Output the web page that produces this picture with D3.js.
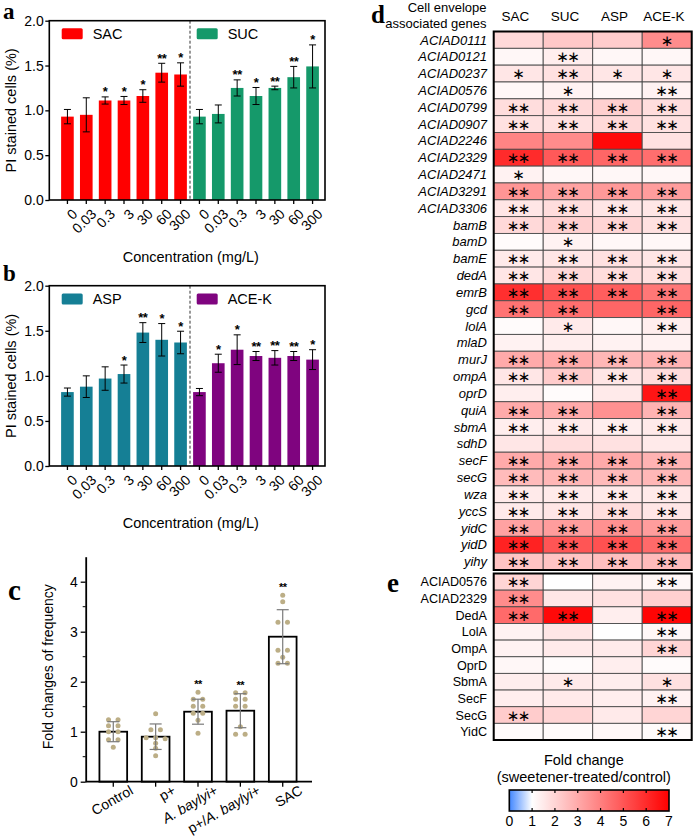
<!DOCTYPE html>
<html><head><meta charset="utf-8">
<script src="https://cdn.jsdelivr.net/npm/d3@7"></script>
<style>body{margin:0;background:#fff} svg{display:block} text{font-family:"Liberation Sans",Arial,sans-serif;fill:#000}</style>
</head><body><svg id="chart" width="696" height="837"></svg>
<script>
// ---------------- DATA ----------------
const concLabels = ["0","0.03","0.3","3","30","60","300"];
const sacMean = [0.93,0.95,1.11,1.11,1.16,1.42,1.40];
const sacSd   = [0.08,0.19,0.04,0.045,0.07,0.105,0.13];
const sacSig  = ["","","*","*","*","**","*"];
const sucMean = [0.93,0.96,1.25,1.16,1.25,1.37,1.49];
const sucSd   = [0.08,0.10,0.09,0.095,0.02,0.12,0.24];
const sucSig  = ["","","**","*","**","**","*"];
const aspMean = [0.82,0.88,0.97,1.02,1.48,1.40,1.37];
const aspSd   = [0.045,0.12,0.13,0.10,0.11,0.18,0.125];
const aspSig  = ["","","","*","**","*","*"];
const acekMean = [0.82,1.14,1.29,1.22,1.20,1.22,1.18];
const acekSd   = [0.04,0.10,0.165,0.05,0.08,0.05,0.11];
const acekSig  = ["","*","*","**","**","**","*"];
const yTicksAB = [0,0.5,1,1.5,2];

const cGroups = ["Control","p+","A. baylyi+","p+/A. baylyi+","SAC"];
const cMean = [1.00,0.90,1.40,1.42,2.90];
const cSd   = [0.20,0.255,0.25,0.34,0.54];
const cSig  = ["","","**","**","**"];
const cDots = [
  [1.24,1.24,1.12,1.12,1.00,1.00,0.84,0.84,0.69],
  [1.36,1.04,1.04,0.88,0.88,0.86,0.77,0.67,0.52],
  [1.79,1.65,1.65,1.51,1.51,1.37,1.37,1.23,0.97],
  [1.78,1.78,1.65,1.65,1.51,1.51,1.10,0.95,0.95],
  [3.73,3.60,3.19,3.19,2.63,2.63,2.49,2.37,2.37]
];
const cTicks = [0,1,2,3,4];

const hmCols = ["SAC","SUC","ASP","ACE-K"];
const dGenes = ["ACIAD0111","ACIAD0121","ACIAD0237","ACIAD0576","ACIAD0799","ACIAD0907","ACIAD2246","ACIAD2329","ACIAD2471","ACIAD3291","ACIAD3306","bamB","bamD","bamE","dedA","emrB","gcd","lolA","mlaD","murJ","ompA","oprD","quiA","sbmA","sdhD","secF","secG","wza","yccS","yidC","yidD","yihy"];
const dSAC  = [1.9,1.2,1.6,1.2,1.8,1.7,3.9,6.0,1.3,3.5,1.6,1.9,1.1,1.5,1.6,5.9,4.3,1.1,1.3,3.0,1.6,1.4,3.0,1.4,1.6,3.0,2.6,1.5,1.5,3.2,6.2,2.4];
const dSUC  = [2.3,1.4,1.7,1.3,1.9,1.7,3.7,4.9,1.2,3.2,1.8,2.1,1.3,1.6,1.9,5.1,4.4,1.5,1.4,3.0,2.2,1.1,3.0,1.5,1.8,3.0,2.7,1.5,1.6,3.3,5.0,2.4];
const dASP  = [2.2,1.2,1.6,1.2,2.1,1.9,6.8,4.6,1.2,3.4,1.6,2.0,1.2,1.7,1.8,4.8,4.6,1.2,1.3,2.7,1.6,1.5,3.6,1.4,1.7,3.0,2.6,1.5,1.8,3.6,5.1,2.5];
const dACEK = [3.7,1.2,1.6,1.3,1.8,1.7,1.7,4.4,1.2,3.3,1.6,1.7,1.2,1.6,1.7,4.2,4.6,1.4,1.3,2.8,1.8,6.5,2.8,1.5,1.5,2.8,2.7,1.5,1.6,3.3,4.5,2.6];
const dSigSAC  = ["","","*","","**","**","","**","*","**","**","**","","**","**","**","**","","","**","**","","**","**","","**","**","**","**","**","**","**"];
const dSigSUC  = ["","**","**","*","**","**","","**","","**","**","**","*","**","**","**","**","*","","**","**","","**","**","","**","**","**","**","**","**","**"];
const dSigASP  = ["","","*","","**","**","","**","","**","**","**","","**","**","**","","","","**","**","","","**","","**","**","**","**","**","**","**"];
const dSigACEK = ["*","","*","**","**","**","","**","","**","**","**","","**","**","**","**","**","","**","**","**","**","**","","**","**","**","**","**","**","**"];

const eProteins = ["ACIAD0576","ACIAD2329","DedA","LolA","OmpA","OprD","SbmA","SecF","SecG","YidC"];
const eSAC  = [2.0,3.7,4.5,1.3,1.3,1.2,1.4,1.4,2.2,1.1];
const eSUC  = [1.0,1.6,6.8,1.6,1.5,1.1,1.5,1.5,2.0,1.1];
const eASP  = [1.3,1.7,1.4,1.0,1.5,1.4,1.4,1.4,1.5,1.2];
const eACEK = [1.2,2.1,6.9,1.2,2.0,1.1,1.7,1.3,2.0,1.1];
const eSigSAC  = ["**","**","**","","","","","","**",""];
const eSigSUC  = ["","","**","","","","*","","",""];
const eSigASP  = ["","","","","","","","","",""];
const eSigACEK = ["**","","**","**","**","","*","**","","**"];

const cbTicks = [0,1,2,3,4,5,6,7];

// ---------------- DRAW ----------------
const svg = d3.select("#chart");
const SERIF = '"Liberation Serif","Times New Roman",serif';

function panelLetter(t, x, y, size){
  svg.append("text").attr("x",x).attr("y",y).text(t)
    .style("font-family",SERIF).style("font-weight","bold").style("font-size",size+"px");
}

function barPanel(top, bottom, groups, titleY, legendY){
  const g = svg.append("g");
  const left = 49.3, right = 325;
  const cats = [];
  groups.forEach((gr,gi)=>concLabels.forEach((c,ci)=>cats.push(gi+"_"+ci)));
  const x = d3.scaleBand().domain(cats).range([58,322]).paddingInner(0.33).paddingOuter(0.165);
  const y = d3.scaleLinear().domain([0,2]).range([bottom, top]);
  const bw = x.bandwidth();
  groups.forEach((gr,gi)=>{
    gr.mean.forEach((m,ci)=>{
      const k = gi+"_"+ci, cx = x(k)+bw/2;
      g.append("rect").attr("x",x(k)).attr("y",y(m)).attr("width",bw).attr("height",y(0)-y(m)).attr("fill",gr.color);
      const hi = m+gr.sd[ci], lo = m-gr.sd[ci];
      g.append("line").attr("x1",cx).attr("x2",cx).attr("y1",y(lo)).attr("y2",y(hi)).attr("stroke","#000").attr("stroke-width",1);
      [hi,lo].forEach(v=>g.append("line").attr("x1",cx-3.5).attr("x2",cx+3.5).attr("y1",y(v)).attr("y2",y(v)).attr("stroke","#000").attr("stroke-width",1));
      if (gr.sig[ci]) g.append("text").attr("x",cx).attr("y",y(hi)-0.5).attr("text-anchor","middle")
          .style("font-size","13px").style("font-weight","bold").style("letter-spacing","-0.5px").text(gr.sig[ci]);
      g.append("line").attr("x1",cx).attr("x2",cx).attr("y1",bottom).attr("y2",bottom+4).attr("stroke","#000").attr("stroke-width",1.3);
      g.append("text").attr("transform",`translate(${cx+4},${bottom+8}) rotate(-45)`).attr("text-anchor","end")
        .attr("dy","0.7em").style("font-size","14px").text(concLabels[ci]);
    });
  });
  const xd = (x("0_6")+bw + x("1_0"))/2;
  g.append("line").attr("x1",xd).attr("x2",xd).attr("y1",top).attr("y2",bottom).attr("stroke","#333").attr("stroke-width",1).attr("stroke-dasharray","3,2");
  g.append("rect").attr("x",left).attr("y",top).attr("width",right-left).attr("height",bottom-top).attr("fill","none").attr("stroke","#000").attr("stroke-width",1.6);
  const ya = g.append("g").attr("transform",`translate(${left},0)`)
    .call(d3.axisLeft(y).tickValues(yTicksAB).tickFormat(d3.format(".1f")).tickSize(4).tickPadding(1.5).tickSizeOuter(0));
  ya.select(".domain").remove();
  ya.selectAll("line").attr("stroke-width",1.3);
  ya.selectAll("text").style("font-size","14px").style("font-family",'"Liberation Sans",Arial,sans-serif');
  g.append("text").attr("transform",`translate(16,${(top+bottom)/2}) rotate(-90)`).attr("text-anchor","middle")
    .style("font-size","14.5px").text("PI stained cells (%)");
  g.append("text").attr("x",190.8).attr("y",titleY).attr("text-anchor","middle").style("font-size","14.5px").text("Concentration (mg/L)");
  groups.forEach((gr,gi)=>{
    const lx = gi===0 ? 61.7 : 196.7;
    g.append("rect").attr("x",lx).attr("y",legendY).attr("width",21).attr("height",11).attr("rx",1.5).attr("fill",gr.color);
    g.append("text").attr("x",lx+31).attr("y",legendY+10.5).style("font-size","14.5px").text(gr.name);
  });
}

barPanel(20.7, 200, [
  {name:"SAC", color:"#ff0000", mean:sacMean, sd:sacSd, sig:sacSig},
  {name:"SUC", color:"#15996a", mean:sucMean, sd:sucSd, sig:sucSig}], 261.5, 28.3);
barPanel(285.7, 466, [
  {name:"ASP", color:"#157f95", mean:aspMean, sd:aspSd, sig:aspSig},
  {name:"ACE-K", color:"#7f047f", mean:acekMean, sd:acekSd, sig:acekSig}], 528, 293.5);

panelLetter("a", 3, 18.5, 23);
panelLetter("b", 3, 281, 23);
panelLetter("c", 8, 600, 29);
panelLetter("d", 371, 23, 25);
panelLetter("e", 387, 592, 27);

// ---------- panel c ----------
(function(){
  const g = svg.append("g");
  const left = 85.7, bottom = 781.7;
  const x = d3.scaleBand().domain(cGroups).range([92.1,303.9]).paddingInner(0.346).paddingOuter(0.173);
  const y = d3.scaleLinear().domain([0,4.5]).range([bottom, 556.7]);
  const bw = x.bandwidth();
  cGroups.forEach((name,i)=>{
    const cx = x(name)+bw/2, m = cMean[i];
    g.append("rect").attr("x",x(name)).attr("y",y(m)).attr("width",bw).attr("height",y(0)-y(m))
      .attr("fill","#fff").attr("stroke","#000").attr("stroke-width",1.8);
    const vals = cDots[i];
    const used = vals.map(()=>false);
    vals.forEach((v,j)=>{
      if (used[j]) return;
      const same = [];
      vals.forEach((w,k)=>{ if(!used[k] && Math.abs(w-v)<0.035){ same.push(k); used[k]=true; } });
      same.forEach((k,s)=>{
        const off = (s-(same.length-1)/2)*9.5;
        g.append("circle").attr("cx",cx+off).attr("cy",y(vals[k])).attr("r",2.5).attr("fill","#bcae86");
      });
    });
    const hi = m+cSd[i], lo = m-cSd[i];
    g.append("line").attr("x1",cx).attr("x2",cx).attr("y1",y(lo)).attr("y2",y(hi)).attr("stroke","#7a7a7a").attr("stroke-width",1.2);
    [hi,lo].forEach(v=>g.append("line").attr("x1",cx-6).attr("x2",cx+6).attr("y1",y(v)).attr("y2",y(v)).attr("stroke","#7a7a7a").attr("stroke-width",1.2));
    const topY = Math.min(y(hi), y(d3.max(vals)));
    if (cSig[i]) g.append("text").attr("x",cx).attr("y",topY-4).attr("text-anchor","middle")
      .style("font-size","11px").style("font-weight","bold").style("letter-spacing","-0.5px").text(cSig[i]);
    g.append("line").attr("x1",cx).attr("x2",cx).attr("y1",bottom).attr("y2",bottom+5).attr("stroke","#000").attr("stroke-width",1.3);
    const lbl = g.append("text").attr("transform",`translate(${cx+16},${bottom+3}) rotate(-30)`).attr("text-anchor","end")
      .attr("dy","0.7em").style("font-size","14px");
    if (name.indexOf("A. baylyi")>=0){
      const pre = name.slice(0, name.indexOf("A. baylyi"));
      if (pre) lbl.append("tspan").text(pre);
      lbl.append("tspan").text("A. baylyi").style("font-style","italic");
      lbl.append("tspan").text("+");
    } else lbl.text(name);
  });
  g.append("line").attr("x1",left).attr("x2",312).attr("y1",bottom).attr("y2",bottom).attr("stroke","#000").attr("stroke-width",1.8);
  const ya = g.append("g").attr("transform",`translate(${left},0)`)
    .call(d3.axisLeft(y).tickValues(cTicks).tickFormat(d3.format("d")).tickSize(5).tickPadding(3).tickSizeOuter(0));
  ya.select(".domain").attr("stroke-width",1.8);
  ya.selectAll("line").attr("stroke-width",1.3);
  ya.selectAll("text").style("font-size","14px").style("font-family",'"Liberation Sans",Arial,sans-serif');
  d3.range(0.5,4.5,1).forEach(v=>g.append("line").attr("x1",left-3).attr("x2",left).attr("y1",y(v)).attr("y2",y(v)).attr("stroke","#000").attr("stroke-width",1));
  g.append("text").attr("transform",`translate(53,666.7) rotate(-90)`).attr("text-anchor","middle")
    .style("font-size","14px").text("Fold changes of frequency");
})();

// ---------- heatmaps ----------
const color = d3.scaleLinear().domain([0,1,7]).range(["#4287ff","#ffffff","#ff0000"]).clamp(true);

function stars(g, cx, cy, s){
  g.append("text").attr("x",cx).attr("y",cy+5.6).attr("text-anchor","middle")
    .style("font-family",'"DejaVu Sans",sans-serif').style("font-size","15px")
    .style("letter-spacing", s.length>1 ? "-1.6px" : "0px")
    .text(s.replace(/\*/g,"∗"));
}

function heatmap(rows, cols, sigs, y0, y1, italic, labelSize){
  const g = svg.append("g");
  const x = d3.scaleBand().domain(hmCols).range([493.7,691.7]);
  const y = d3.scaleBand().domain(rows).range([y0,y1]);
  rows.forEach((r,ri)=>{
    hmCols.forEach((c,ci)=>{
      g.append("rect").attr("x",x(c)).attr("y",y(r)).attr("width",x.bandwidth()).attr("height",y.bandwidth())
        .attr("fill",color(cols[ci][ri])).attr("stroke","#4a4a4a").attr("stroke-width",0.9);
      const s = sigs[ci][ri];
      if (s) stars(g, x(c)+x.bandwidth()/2 + (s.length>1?-0.8:0), y(r)+y.bandwidth()/2, s);
    });
    g.append("text").attr("x",487).attr("y",y(r)+y.bandwidth()/2+4.6).attr("text-anchor","end")
      .style("font-size",labelSize+"px").style("font-style",italic?"italic":"normal").text(r);
  });
  g.append("rect").attr("x",493.7).attr("y",y0).attr("width",198).attr("height",y1-y0)
    .attr("fill","none").attr("stroke","#000").attr("stroke-width",2);
  return x;
}

const hx = heatmap(dGenes, [dSAC,dSUC,dASP,dACEK], [dSigSAC,dSigSUC,dSigASP,dSigACEK], 31.5, 570, true, 13);
heatmap(eProteins, [eSAC,eSUC,eASP,eACEK], [eSigSAC,eSigSUC,eSigASP,eSigACEK], 573.5, 740, false, 12.6);

svg.append("text").attr("x",486.5).attr("y",11.5).attr("text-anchor","end").style("font-size","13px").text("Cell envelope");
svg.append("text").attr("x",486.5).attr("y",28).attr("text-anchor","end").style("font-size","13px").text("associated genes");
hmCols.forEach(c=>{
  svg.append("text").attr("x",hx(c)+hx.bandwidth()/2-3).attr("y",20.5).attr("text-anchor","middle").style("font-size","13.5px").text(c);
});

// ---------- colorbar ----------
(function(){
  const cb = d3.scaleLinear().domain([0,7]).range([509.3,669]);
  const defs = svg.append("defs");
  const grad = defs.append("linearGradient").attr("id","cbgrad").attr("x1","0%").attr("x2","100%");
  d3.range(0,7.01,0.25).forEach(v=>grad.append("stop").attr("offset",(v/7*100)+"%").attr("stop-color",color(v)));
  const y0 = 790, y1 = 811;
  svg.append("rect").attr("x",cb(0)).attr("y",y0).attr("width",cb(7)-cb(0)).attr("height",y1-y0).attr("fill","url(#cbgrad)");
  cbTicks.slice(1,-1).forEach(v=>{
    svg.append("line").attr("x1",cb(v)).attr("x2",cb(v)).attr("y1",y0).attr("y2",y0+3).attr("stroke","#000").attr("stroke-width",1.2);
    svg.append("line").attr("x1",cb(v)).attr("x2",cb(v)).attr("y1",y1-3).attr("y2",y1).attr("stroke","#000").attr("stroke-width",1.2);
  });
  svg.append("rect").attr("x",cb(0)).attr("y",y0).attr("width",cb(7)-cb(0)).attr("height",y1-y0).attr("fill","none").attr("stroke","#000").attr("stroke-width",1.6);
  cbTicks.forEach(v=>svg.append("text").attr("x",cb(v)).attr("y",826).attr("text-anchor","middle").style("font-size","14px").text(v));
  svg.append("text").attr("x",583.8).attr("y",765).attr("text-anchor","middle").style("font-size","14.5px").text("Fold change");
  svg.append("text").attr("x",583.8).attr("y",782).attr("text-anchor","middle").style("font-size","14.5px").text("(sweetener-treated/control)");
})();
</script></body></html>
